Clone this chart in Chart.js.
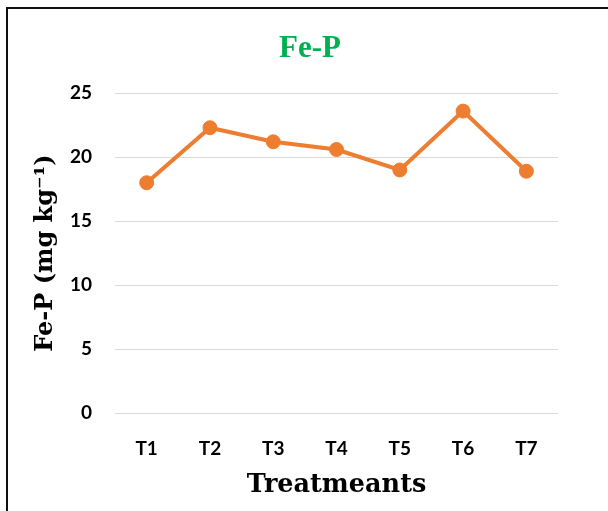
<!DOCTYPE html>
<html>
<head>
<meta charset="utf-8">
<script src="https://cdn.jsdelivr.net/npm/chart.js@4"></script>
<style>
html,body{margin:0;padding:0;background:#fff;}
#wrap{position:relative;width:608px;height:511px;overflow:hidden;background:#fff;}
#frame{position:absolute;left:6px;top:7px;width:700px;height:600px;border-left:2px solid #111;border-top:2px solid #111;}
canvas{position:absolute;left:0;top:0;}
</style>
</head>
<body>
<div id="wrap">
<div id="frame"></div>
<canvas id="c" width="608" height="511"></canvas>
</div>
<script>
const categories = ["T1","T2","T3","T4","T5","T6","T7"];
const feP = [18.0, 22.3, 21.2, 20.6, 19.0, 23.6, 18.9];
const yTicks = [0,5,10,15,20,25];

const tickFont = {family:"Lato, 'Open Sans', sans-serif", size:19, weight:'bold'};

new Chart(document.getElementById('c'), {
  type:'line',
  data:{
    labels:categories,
    datasets:[{
      data:feP,
      borderColor:'#ED7D31',
      backgroundColor:'#ED7D31',
      borderWidth:4,
      pointRadius:7,
      pointHoverRadius:7,
      pointBorderWidth:1,
      pointBackgroundColor:'#ED7D31',
      pointBorderColor:'#ED7D31',
      tension:0
    }]
  },
  options:{
    responsive:false,
    animation:false,
    devicePixelRatio:1,
    layout:{padding:{left:12,right:0,top:30,bottom:10}},
    plugins:{
      legend:{display:false},
      tooltip:{enabled:false},
      title:{
        display:true,
        text:'Fe-P',
        color:'#00B050',
        font:{family:"'Liberation Serif', 'Times New Roman', serif", size:31, weight:'bold'},
        padding:{top:0,bottom:26}
      }
    },
    scales:{
      x:{
        grid:{display:false,drawTicks:false},
        border:{display:false},
        offset:true,
        ticks:{color:'#000',font:tickFont,padding:24},
        title:{display:true,text:'Treatmeants',color:'#000',font:{family:"'DejaVu Serif', serif",size:25.5,weight:'bold'},padding:{top:-13.4,bottom:0}}
      },
      y:{
        min:0,max:25,
        afterBuildTicks:(s)=>{s.ticks = yTicks.map(v=>({value:v}));},
        grid:{color:'#D9D9D9',lineWidth:1,drawTicks:false},
        border:{display:false},
        ticks:{color:'#000',font:tickFont,padding:23},
        title:{display:true,text:'Fe-P (mg kg\u207B\u00B9)',color:'#000',font:{family:"'DejaVu Serif', serif",size:24,weight:'bold'},padding:{top:19.6,bottom:-13.4}}
      },
      yRight:{
        position:'right',
        display:true,
        min:0,max:25,
        grid:{display:false,drawTicks:false},
        border:{display:false},
        ticks:{display:false},
        afterFit:(s)=>{s.width = 50;}
      }
    }
  }
});
</script>
</body>
</html>
